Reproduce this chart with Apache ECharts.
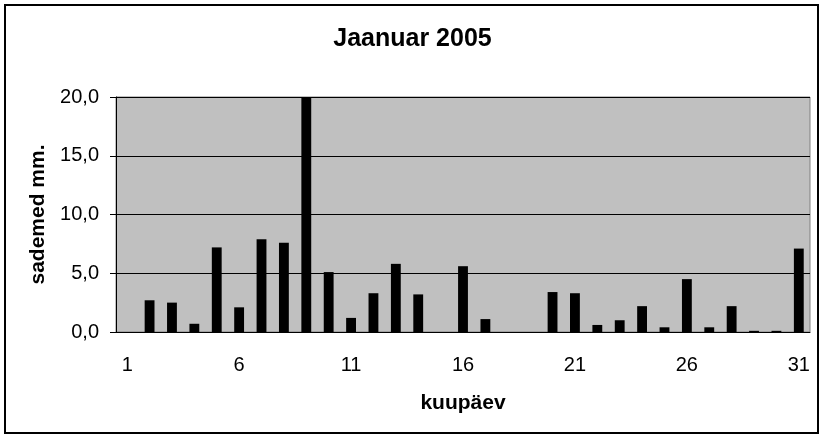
<!DOCTYPE html>
<html>
<head>
<meta charset="utf-8">
<script src="https://cdn.jsdelivr.net/npm/echarts@6/dist/echarts.min.js"></script>
<style>
  html, body { margin: 0; padding: 0; background: #fff; }
  #chart { width: 825px; height: 439px; }
</style>
</head>
<body>
<div id="chart"></div>
<script>
var myChart = echarts.init(document.getElementById('chart'));

// päevad 1..31 ja sademed (mm), loetud pildilt
var days = ['1', '2', '3', '4', '5', '6', '7', '8', '9', '10', '11', '12', '13', '14', '15', '16',
  '17', '18', '19', '20', '21', '22', '23', '24', '25', '26', '27', '28', '29', '30', '31'];
var rain = [0, 2.7, 2.5, 0.7, 7.2, 2.1, 7.9, 7.6, 20.0, 5.1, 1.2, 3.3, 5.8, 3.2, 0, 5.6,
  1.1, 0, 0, 3.4, 3.3, 0.6, 1.0, 2.2, 0.4, 4.5, 0.4, 2.2, 0.1, 0.1, 7.1];

var font = 'Arial, "Liberation Sans", sans-serif';

var option = {
  animation: false,
  backgroundColor: '#fff',
  title: {
    text: 'Jaanuar 2005',
    left: 'center',
    top: 22,
    textStyle: { fontFamily: font, fontSize: 25, fontWeight: 'bold', color: '#000' }
  },
  graphic: [{
    type: 'rect',
    shape: { x: 5, y: 5, width: 813, height: 428 },
    style: { fill: 'none', stroke: '#000', lineWidth: 2 },
    silent: true
  }],
  grid: {
    left: 116, right: 15, top: 97, bottom: 107,
    show: true,
    backgroundColor: '#C0C0C0',
    borderColor: '#808080',
    borderWidth: 1
  },
  xAxis: {
    type: 'category',
    data: days,
    name: 'kuupäev',
    nameLocation: 'middle',
    nameGap: 61,
    nameTextStyle: { fontFamily: font, fontSize: 21, fontWeight: 'bold', color: '#000' },
    axisLine: { lineStyle: { color: '#000', width: 1 } },
    axisTick: { interval: 0, length: 6, lineStyle: { color: '#000' } },
    axisLabel: { interval: 4, margin: 23, fontFamily: font, fontSize: 20, color: '#000' },
    splitLine: { show: false }
  },
  yAxis: {
    type: 'value',
    min: 0, max: 20, interval: 5,
    name: 'sademed mm.',
    nameLocation: 'middle',
    nameGap: 66,
    nameTextStyle: { fontFamily: font, fontSize: 21, fontWeight: 'bold', color: '#000' },
    axisLine: { show: true, lineStyle: { color: '#000', width: 1 } },
    axisTick: { show: true, length: 6, lineStyle: { color: '#000' } },
    axisLabel: {
      margin: 17,
      fontFamily: font, fontSize: 20, color: '#000',
      formatter: function (v) { return v.toFixed(1).replace('.', ','); }
    },
    splitLine: { lineStyle: { color: '#000', width: 1 } }
  },
  series: [{
    type: 'bar',
    data: rain,
    barWidth: '44%',
    itemStyle: { color: '#000' }
  }]
};

myChart.setOption(option);
</script>
</body>
</html>
